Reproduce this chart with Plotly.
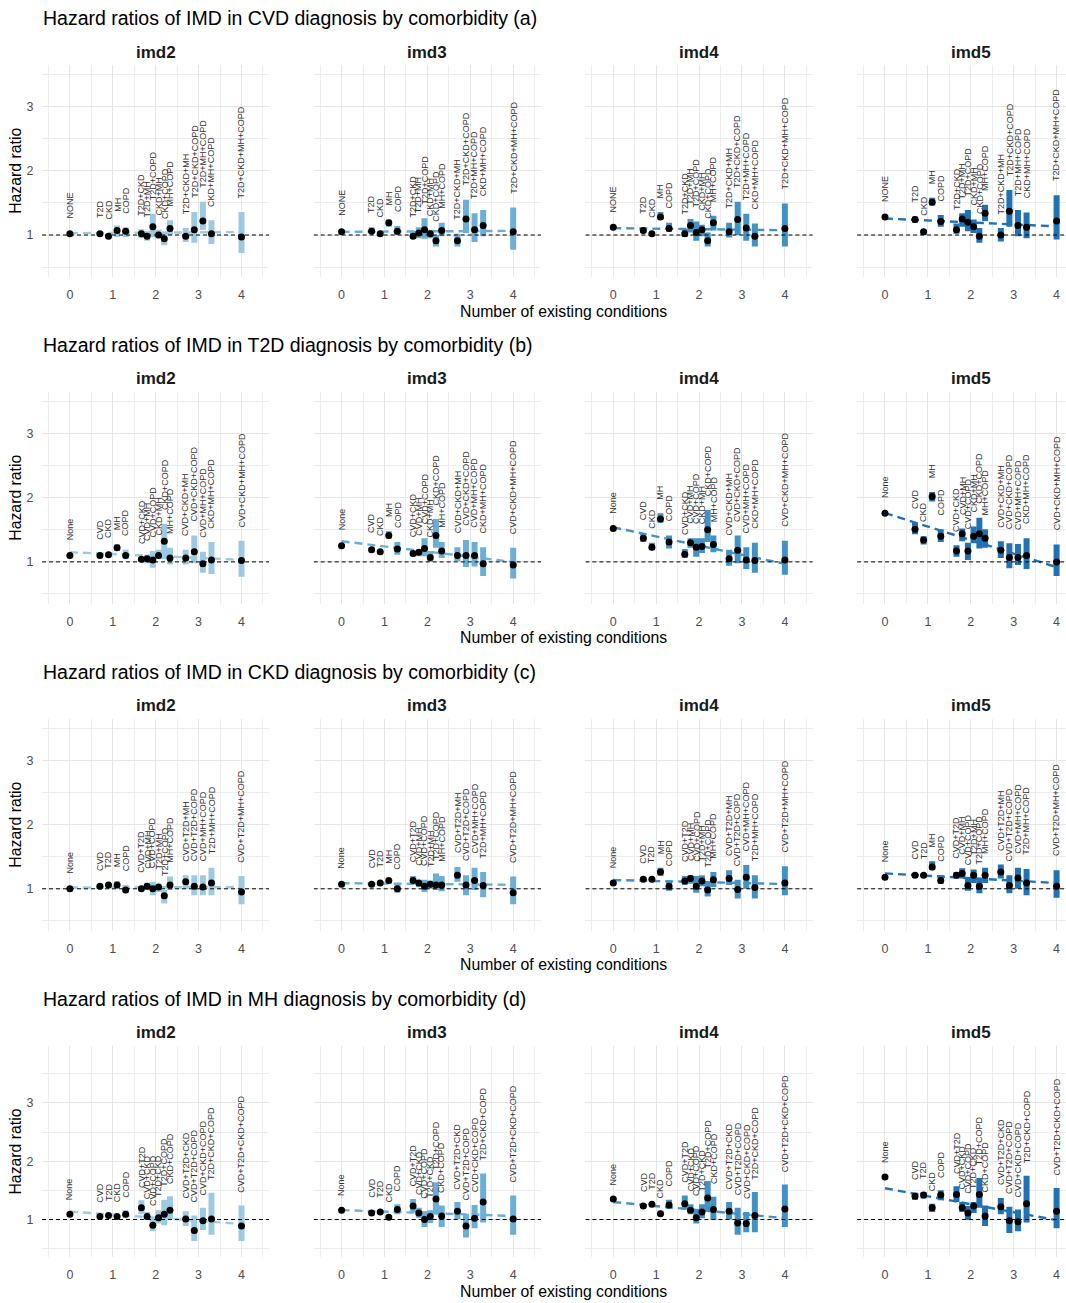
import numpy as np
import plotly.graph_objects as go

W, H = 1066, 1303

imd_levels = ["imd2", "imd3", "imd4", "imd5"]
imd_colors = ["#9ecae1", "#6baed6", "#4292c6", "#2171b5"]
n_conditions = [0, 1, 1, 1, 1, 2, 2, 2, 2, 2, 2, 3, 3, 3, 3, 4]
x_tick_values = [0, 1, 2, 3, 4]
y_tick_values = [1, 2, 3]
outcomes = ["CVD", "T2D", "CKD", "MH"]
panel_letters = ["a", "b", "c", "d"]

# ---------------- labels ----------------
cvd_labels = ["NONE", "T2D", "CKD", "MH", "COPD", "T2D+CKD", "T2D+MH", "T2D+COPD", "CKD+MH",
              "CKD+COPD", "MH+COPD", "T2D+CKD+MH", "T2D+CKD+COPD", "T2D+MH+COPD", "CKD+MH+COPD",
              "T2D+CKD+MH+COPD"]
t2d_labels = ["None", "CVD", "CKD", "MH", "COPD", "CVD+CKD", "CVD+MH", "CVD+COPD", "CKD+MH",
              "CKD+COPD", "MH+COPD", "CVD+CKD+MH", "CVD+CKD+COPD", "CVD+MH+COPD", "CKD+MH+COPD",
              "CVD+CKD+MH+COPD"]
ckd_labels = ["None", "CVD", "T2D", "MH", "COPD", "CVD+T2D", "CVD+MH", "CVD+COPD", "T2D+MH",
              "T2D+COPD", "MH+COPD", "CVD+T2D+MH", "CVD+T2D+COPD", "CVD+MH+COPD", "T2D+MH+COPD",
              "CVD+T2D+MH+COPD"]
mh_labels = ["None", "CVD", "T2D", "CKD", "COPD", "CVD+T2D", "CVD+CKD", "CVD+COPD", "T2D+CKD",
             "T2D+COPD", "CKD+COPD", "CVD+T2D+CKD", "CVD+T2D+COPD", "CVD+CKD+COPD", "T2D+CKD+COPD",
             "CVD+T2D+CKD+COPD"]

# ---------------- (a) CVD ----------------
cvd_hr_imd2 = [1.02, 1.02, 0.98, 1.07, 1.06, 1.02, 0.98, 1.13, 1.00, 0.94, 1.10, 0.98, 1.08, 1.22, 1.02, 0.97]
cvd_lo_imd2 = [1.00, 0.99, 0.95, 0.97, 0.97, 0.95, 0.91, 0.97, 0.95, 0.84, 1.00, 0.89, 0.88, 1.08, 0.86, 0.72]
cvd_hi_imd2 = [1.04, 1.05, 1.02, 1.15, 1.12, 1.09, 1.06, 1.33, 1.08, 1.03, 1.23, 1.11, 1.36, 1.52, 1.23, 1.36]
cvd_hr_imd3 = [1.05, 1.06, 1.02, 1.19, 1.06, 0.98, 1.03, 1.08, 1.02, 0.91, 1.07, 0.91, 1.25, 1.08, 1.15, 1.05]
cvd_lo_imd3 = [1.02, 1.03, 0.99, 1.13, 1.00, 0.94, 0.95, 0.94, 0.95, 0.82, 0.98, 0.82, 1.03, 0.89, 0.98, 0.77]
cvd_hi_imd3 = [1.08, 1.12, 1.06, 1.24, 1.14, 1.06, 1.12, 1.26, 1.08, 1.00, 1.19, 1.02, 1.55, 1.34, 1.39, 1.43]
cvd_hr_imd4 = [1.12, 1.07, 1.02, 1.28, 1.10, 1.02, 1.15, 1.04, 1.08, 0.91, 1.19, 1.05, 1.24, 1.11, 0.98, 1.10]
cvd_lo_imd4 = [1.10, 1.03, 0.99, 1.24, 1.05, 0.97, 1.04, 0.91, 0.98, 0.82, 1.07, 0.96, 1.00, 0.91, 0.82, 0.82]
cvd_hi_imd4 = [1.14, 1.12, 1.05, 1.36, 1.19, 1.10, 1.25, 1.21, 1.16, 1.04, 1.30, 1.19, 1.52, 1.33, 1.18, 1.49]
cvd_hr_imd5 = [1.28, 1.24, 1.05, 1.51, 1.21, 1.08, 1.25, 1.20, 1.13, 0.98, 1.34, 1.00, 1.37, 1.15, 1.12, 1.22]
cvd_lo_imd5 = [1.26, 1.19, 1.00, 1.46, 1.13, 1.02, 1.13, 1.06, 1.03, 0.88, 1.22, 0.90, 1.13, 0.98, 0.95, 0.93]
cvd_hi_imd5 = [1.30, 1.29, 1.08, 1.58, 1.31, 1.18, 1.34, 1.39, 1.24, 1.11, 1.47, 1.11, 1.70, 1.39, 1.35, 1.62]

# ---------------- (b) T2D ----------------
t2d_hr_imd2 = [1.10, 1.10, 1.11, 1.22, 1.10, 1.04, 1.05, 1.03, 1.10, 1.32, 1.06, 1.06, 1.16, 0.97, 1.03, 1.02]
t2d_lo_imd2 = [1.08, 1.08, 1.08, 1.17, 1.04, 1.00, 0.98, 0.91, 1.04, 1.04, 0.96, 0.96, 0.98, 0.83, 0.81, 0.77]
t2d_hi_imd2 = [1.12, 1.13, 1.15, 1.28, 1.19, 1.07, 1.11, 1.17, 1.19, 1.59, 1.22, 1.19, 1.41, 1.16, 1.31, 1.33]
t2d_hr_imd3 = [1.25, 1.19, 1.16, 1.41, 1.20, 1.13, 1.15, 1.21, 1.07, 1.41, 1.17, 1.10, 1.10, 1.10, 0.97, 0.95]
t2d_lo_imd3 = [1.23, 1.15, 1.12, 1.36, 1.11, 1.09, 1.09, 1.09, 1.00, 1.22, 1.06, 1.01, 0.92, 0.93, 0.78, 0.74]
t2d_hi_imd3 = [1.27, 1.23, 1.19, 1.48, 1.31, 1.17, 1.19, 1.37, 1.17, 1.67, 1.31, 1.23, 1.34, 1.31, 1.23, 1.22]
t2d_hr_imd4 = [1.52, 1.37, 1.23, 1.67, 1.31, 1.12, 1.30, 1.23, 1.24, 1.50, 1.27, 1.05, 1.18, 1.03, 1.02, 1.03]
t2d_lo_imd4 = [1.50, 1.31, 1.18, 1.61, 1.21, 1.06, 1.22, 1.08, 1.14, 1.31, 1.15, 0.94, 0.98, 0.89, 0.83, 0.80]
t2d_hi_imd4 = [1.54, 1.44, 1.30, 1.76, 1.41, 1.20, 1.37, 1.37, 1.37, 1.81, 1.41, 1.19, 1.41, 1.23, 1.30, 1.33]
t2d_hr_imd5 = [1.76, 1.51, 1.34, 2.02, 1.40, 1.17, 1.44, 1.17, 1.40, 1.44, 1.37, 1.18, 1.07, 1.07, 1.10, 1.00]
t2d_lo_imd5 = [1.74, 1.43, 1.27, 1.94, 1.31, 1.08, 1.32, 1.03, 1.29, 1.21, 1.22, 1.06, 0.90, 0.95, 0.89, 0.78]
t2d_hi_imd5 = [1.78, 1.61, 1.40, 2.09, 1.51, 1.26, 1.52, 1.30, 1.55, 1.69, 1.51, 1.32, 1.29, 1.28, 1.37, 1.27]

# ---------------- (c) CKD ----------------
ckd_hr_imd2 = [1.00, 1.04, 1.06, 1.06, 0.98, 1.00, 1.04, 1.00, 1.03, 0.89, 1.06, 1.11, 1.04, 1.03, 1.09, 0.95]
ckd_lo_imd2 = [0.98, 1.02, 1.03, 1.00, 0.93, 0.97, 0.98, 0.90, 0.95, 0.77, 0.98, 1.00, 0.90, 0.90, 0.90, 0.76]
ckd_hi_imd2 = [1.02, 1.06, 1.09, 1.12, 1.06, 1.04, 1.10, 1.11, 1.08, 0.98, 1.19, 1.21, 1.21, 1.21, 1.33, 1.20]
ckd_hr_imd3 = [1.07, 1.07, 1.09, 1.13, 1.00, 1.13, 1.09, 1.04, 1.07, 1.06, 1.06, 1.21, 1.06, 1.13, 1.05, 0.94]
ckd_lo_imd3 = [1.05, 1.04, 1.06, 1.08, 0.94, 1.09, 1.03, 0.95, 1.00, 0.98, 0.96, 1.11, 0.90, 0.98, 0.87, 0.76]
ckd_hi_imd3 = [1.09, 1.10, 1.12, 1.17, 1.08, 1.20, 1.14, 1.14, 1.13, 1.24, 1.20, 1.34, 1.21, 1.33, 1.26, 1.19]
ckd_hr_imd4 = [1.09, 1.15, 1.15, 1.26, 1.04, 1.12, 1.16, 1.04, 1.12, 0.98, 1.14, 1.16, 0.99, 1.18, 1.02, 1.09]
ckd_lo_imd4 = [1.07, 1.12, 1.12, 1.20, 0.97, 1.06, 1.08, 0.94, 1.04, 0.88, 1.03, 1.06, 0.85, 1.00, 0.85, 0.90]
ckd_hi_imd4 = [1.11, 1.18, 1.18, 1.33, 1.13, 1.20, 1.21, 1.20, 1.21, 1.12, 1.26, 1.29, 1.14, 1.37, 1.21, 1.35]
ckd_hr_imd5 = [1.18, 1.21, 1.21, 1.34, 1.13, 1.21, 1.24, 1.05, 1.21, 1.04, 1.21, 1.26, 1.05, 1.17, 1.09, 1.04]
ckd_lo_imd5 = [1.16, 1.18, 1.18, 1.29, 1.08, 1.16, 1.16, 0.97, 1.09, 0.93, 1.09, 1.16, 0.93, 1.00, 0.90, 0.86]
ckd_hi_imd5 = [1.20, 1.24, 1.24, 1.43, 1.21, 1.26, 1.32, 1.16, 1.30, 1.16, 1.33, 1.38, 1.21, 1.33, 1.31, 1.29]

# ---------------- (d) MH ----------------
mh_hr_imd2 = [1.09, 1.05, 1.07, 1.05, 1.09, 1.20, 1.05, 0.90, 1.03, 1.09, 1.16, 1.01, 0.81, 0.98, 1.01, 0.89]
mh_lo_imd2 = [1.07, 1.03, 1.05, 1.02, 1.02, 1.09, 1.00, 0.80, 0.93, 0.90, 1.01, 0.89, 0.63, 0.82, 0.74, 0.63]
mh_hi_imd2 = [1.11, 1.07, 1.09, 1.08, 1.16, 1.33, 1.13, 1.02, 1.16, 1.34, 1.40, 1.14, 1.07, 1.20, 1.46, 1.24]
mh_hr_imd3 = [1.16, 1.11, 1.13, 1.04, 1.17, 1.23, 1.11, 1.00, 1.05, 1.35, 1.06, 1.14, 0.89, 1.02, 1.30, 1.01]
mh_lo_imd3 = [1.14, 1.08, 1.10, 1.01, 1.09, 1.13, 1.03, 0.87, 0.94, 1.09, 0.87, 1.01, 0.69, 0.85, 0.95, 0.74]
mh_hi_imd3 = [1.18, 1.15, 1.16, 1.07, 1.26, 1.35, 1.20, 1.14, 1.16, 1.64, 1.24, 1.30, 1.10, 1.25, 1.79, 1.41]
mh_hr_imd4 = [1.35, 1.23, 1.26, 1.10, 1.25, 1.27, 1.16, 1.03, 1.13, 1.37, 1.17, 1.14, 0.94, 0.93, 1.07, 1.18]
mh_lo_imd4 = [1.33, 1.20, 1.23, 1.06, 1.18, 1.17, 1.09, 0.93, 1.02, 1.14, 0.99, 1.00, 0.74, 0.78, 0.78, 0.87]
mh_hi_imd4 = [1.37, 1.26, 1.29, 1.15, 1.34, 1.41, 1.26, 1.18, 1.26, 1.66, 1.39, 1.30, 1.20, 1.13, 1.47, 1.60]
mh_hr_imd5 = [1.73, 1.40, 1.42, 1.20, 1.42, 1.43, 1.20, 1.11, 1.23, 1.43, 1.06, 1.22, 0.98, 0.96, 1.27, 1.14]
mh_lo_imd5 = [1.71, 1.34, 1.36, 1.13, 1.33, 1.30, 1.13, 0.99, 1.11, 1.20, 0.89, 1.09, 0.77, 0.80, 0.95, 0.85]
mh_hi_imd5 = [1.75, 1.46, 1.47, 1.27, 1.50, 1.57, 1.30, 1.23, 1.30, 1.71, 1.24, 1.37, 1.22, 1.17, 1.75, 1.54]

rows = [
    (cvd_labels, [cvd_hr_imd2, cvd_hr_imd3, cvd_hr_imd4, cvd_hr_imd5],
     [cvd_lo_imd2, cvd_lo_imd3, cvd_lo_imd4, cvd_lo_imd5],
     [cvd_hi_imd2, cvd_hi_imd3, cvd_hi_imd4, cvd_hi_imd5]),
    (t2d_labels, [t2d_hr_imd2, t2d_hr_imd3, t2d_hr_imd4, t2d_hr_imd5],
     [t2d_lo_imd2, t2d_lo_imd3, t2d_lo_imd4, t2d_lo_imd5],
     [t2d_hi_imd2, t2d_hi_imd3, t2d_hi_imd4, t2d_hi_imd5]),
    (ckd_labels, [ckd_hr_imd2, ckd_hr_imd3, ckd_hr_imd4, ckd_hr_imd5],
     [ckd_lo_imd2, ckd_lo_imd3, ckd_lo_imd4, ckd_lo_imd5],
     [ckd_hi_imd2, ckd_hi_imd3, ckd_hi_imd4, ckd_hi_imd5]),
    (mh_labels, [mh_hr_imd2, mh_hr_imd3, mh_hr_imd4, mh_hr_imd5],
     [mh_lo_imd2, mh_lo_imd3, mh_lo_imd4, mh_lo_imd5],
     [mh_hi_imd2, mh_hi_imd3, mh_hi_imd4, mh_hi_imd5]),
]

# ---------------- geometry (pixels) ----------------
ROW_STEP = 326.9
COL_STEP = 271.7
PANEL_L0 = 42.0
X_LO, X_HI = -0.65, 4.65
PX_PER_X = 42.9
PANEL_W = (X_HI - X_LO) * PX_PER_X
PANEL_T0 = 65.0
PANEL_B0 = 276.7
Y_RANGES = [(0.35, 3.65), (0.35, 3.65), (0.35, 3.65), (0.35, 3.98)]
LABEL_GAP = 0.2
BAR_W = 0.14
DODGE_W = 0.8
FONT = "Liberation Sans, Arial, sans-serif"


def px(x):
    return x / W


def py(y):
    return 1 - y / H


# dodge positions within each number-of-conditions group
positions = []
for i, n in enumerate(n_conditions):
    members = [j for j, v in enumerate(n_conditions) if v == n]
    k = len(members)
    r = members.index(i)
    positions.append(n + (r - (k - 1) / 2) * DODGE_W / k)

fig = go.Figure()
layout = dict(
    width=W, height=H, margin=dict(l=0, r=0, t=0, b=0),
    paper_bgcolor="white", plot_bgcolor="white", showlegend=False,
    barmode="overlay", font=dict(family=FONT),
)
annotations = []

for r, (labels, hrs, los, his) in enumerate(rows):
    top = PANEL_T0 + ROW_STEP * r
    bot = PANEL_B0 + ROW_STEP * r
    ylo, yhi = Y_RANGES[r]
    for c in range(4):
        idx = r * 4 + c + 1
        xn = "x" if idx == 1 else f"x{idx}"
        yn = "y" if idx == 1 else f"y{idx}"
        left = PANEL_L0 + COL_STEP * c
        right = left + PANEL_W
        xhi = X_HI
        if right > W:
            xhi = X_LO + (W - left) / PX_PER_X
            right = W
        hr, lo, hi = hrs[c], los[c], his[c]
        col = imd_colors[c]

        fig.add_trace(go.Bar(
            x=positions, y=[h - l for h, l in zip(hi, lo)], base=lo, width=BAR_W,
            marker=dict(color=col, line=dict(width=0)), xaxis=xn, yaxis=yn,
            hoverinfo="skip"))

        slope, intercept = np.polyfit(n_conditions, hr, 1)
        xs = [min(n_conditions), max(n_conditions)]
        fig.add_trace(go.Scatter(
            x=xs, y=[intercept + slope * v for v in xs], mode="lines",
            line=dict(color=col, width=2.4, dash="8px,5px"), xaxis=xn, yaxis=yn,
            hoverinfo="skip"))

        fig.add_trace(go.Scatter(
            x=[X_LO, X_HI], y=[1, 1], mode="lines",
            line=dict(color="black", width=1, dash="4px,3px"), xaxis=xn, yaxis=yn,
            hoverinfo="skip"))

        fig.add_trace(go.Scatter(
            x=positions, y=hr, mode="markers",
            marker=dict(color="black", size=7), xaxis=xn, yaxis=yn))

        for p, u, t in zip(positions, hi, labels):
            annotations.append(dict(
                x=p, y=u + LABEL_GAP, xref=xn, yref=yn, text=t, textangle=-90,
                showarrow=False, xanchor="center", yanchor="bottom",
                font=dict(size=9, color="#333333", family=FONT), borderpad=0))

        layout["xaxis" if idx == 1 else f"xaxis{idx}"] = dict(
            domain=[px(left), px(right)], range=[X_LO, xhi], anchor=yn,
            tickmode="array", tickvals=x_tick_values,
            showgrid=True, gridcolor="#e6e6e6", gridwidth=1.2,
            minor=dict(tickmode="array", tickvals=[v + 0.5 for v in [-1] + x_tick_values],
                       showgrid=True, gridcolor="#ededed", gridwidth=1.0),
            zeroline=False, showline=False, ticks="outside", ticklen=6,
            tickcolor="rgba(0,0,0,0)",
            tickfont=dict(size=12.5, color="#4d4d4d", family=FONT))
        layout["yaxis" if idx == 1 else f"yaxis{idx}"] = dict(
            domain=[py(bot), py(top)], range=[ylo, yhi], anchor=xn,
            tickmode="array", tickvals=y_tick_values, showticklabels=(c == 0),
            showgrid=True, gridcolor="#e6e6e6", gridwidth=1.2,
            minor=dict(tickmode="array", tickvals=[v - 0.5 for v in y_tick_values] + [3.5],
                       showgrid=True, gridcolor="#ededed", gridwidth=1.0),
            zeroline=False, showline=False, ticks="outside", ticklen=5,
            tickcolor="rgba(0,0,0,0)",
            tickfont=dict(size=12.5, color="#4d4d4d", family=FONT))

        # strip title
        annotations.append(dict(
            x=px(PANEL_L0 + COL_STEP * c + PANEL_W / 2), y=py(52 + ROW_STEP * r),
            xref="paper", yref="paper", text=f"<b>{imd_levels[c]}</b>",
            showarrow=False, xanchor="center", yanchor="middle",
            font=dict(size=17, color="#1a1a1a", family=FONT)))

    # row title
    annotations.append(dict(
        x=px(41), y=py(18 + ROW_STEP * r), xref="paper", yref="paper",
        text=f"Hazard ratios of IMD in {outcomes[r]} diagnosis by comorbidity ({panel_letters[r]})",
        showarrow=False, xanchor="left", yanchor="middle",
        font=dict(size=19.5, color="black", family=FONT)))
    # x-axis title
    annotations.append(dict(
        x=px(PANEL_L0 + (3 * COL_STEP + PANEL_W) / 2), y=py(311 + ROW_STEP * r),
        xref="paper", yref="paper", text="Number of existing conditions",
        showarrow=False, xanchor="center", yanchor="middle",
        font=dict(size=15.8, color="black", family=FONT)))
    # y-axis title
    annotations.append(dict(
        x=px(16), y=py((top + bot) / 2), xref="paper", yref="paper",
        text="Hazard ratio", textangle=-90,
        showarrow=False, xanchor="center", yanchor="middle",
        font=dict(size=15.8, color="black", family=FONT)))

layout["annotations"] = annotations
fig.update_layout(**layout)
fig.write_html("out.html", config={"displayModeBar": False},
               post_script="document.body.style.margin='0px';document.body.style.overflow='hidden';")
